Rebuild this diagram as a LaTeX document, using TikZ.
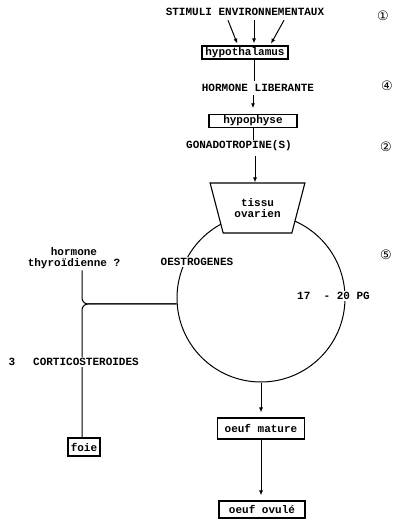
\documentclass[tikz,border=0pt]{standalone}
\usepackage{fontspec}
\setmonofont{Liberation Mono}
\newfontfamily\symfont{DejaVu Sans}
\usetikzlibrary{shapes.geometric,arrows.meta}
\tikzset{
  txt/.style={font=\fontsize{11}{11.5}\selectfont\ttfamily\bfseries, inner sep=1pt},
  boxed/.style={txt, draw, line width=1.1pt},
  arw/.style={-{Latex[length=5pt,width=4pt]}},
  num/.style={font=\symfont\fontsize{13}{13}\selectfont, inner sep=0pt},
}
\begin{document}
\begin{tikzpicture}[x=1pt,y=-1pt,line width=1pt]
        \useasboundingbox (0,0) rectangle (400,524);
        %% Cycle
        \node[circle,draw,minimum size=168pt,inner sep=0pt] (cyc) at (261,298) {};
        %% Blocks
        \node[txt] (stim) at (245,12) {STIMULI ENVIRONNEMENTAUX};
        \node[boxed,minimum width=86pt,minimum height=13pt] (hypo) at (245,52.5) {hypothalamus};
        \node[txt] (horm) at (258,88) {HORMONE LIBERANTE};
        \node[boxed,minimum width=88pt,minimum height=12pt] (hyph) at (253,121) {hypophyse};
        \node[txt] (gona) at (239,146) {GONADOTROPINE(S)};
        \node[txt,trapezium,draw,fill=white,align=center,line width=1.1pt,
              shape border rotate=180,trapezium angle=67,trapezium stretches=true,
              minimum width=95pt,minimum height=50pt] (ovar) at (257.5,208) {tissu\\ovarien};
        \node[boxed,minimum width=87pt,minimum height=21pt] (mat) at (261,428.5) {oeuf mature};
        \node[boxed,minimum width=86pt,minimum height=17pt] (ovu) at (262,509.5) {oeuf ovulé};
        \node[boxed,minimum width=32pt,minimum height=18pt] (foie) at (84,447) {foie};
        \node[txt,align=center] (thyr) at (74,258) {hormone\\thyroïdienne ?};
        %% Arrows
        \draw[arw,shorten >=2pt] ([xshift=-17pt,yshift=-3pt]stim.south) -- ([xshift=-7pt]hypo.north);
        \draw[arw,shorten >=2pt] ([xshift=9pt,yshift=-3pt]stim.south) -- ([xshift=9pt]hypo.north);
        \draw[arw,shorten >=2pt] ([xshift=39pt,yshift=-3pt]stim.south) -- ([xshift=25pt]hypo.north);
        \draw ([xshift=9pt]hypo.south) -- ++(0,21);
        \draw[arw,shorten >=6pt,shorten <=2pt] (horm.south -| hyph.north) -- (hyph.north);
        \draw (hyph.south) -- ++(0,12);
        \draw[arw,shorten <=3pt] (gona.south -| 255,0) -- (ovar.north -| 255,0);
        \draw[arw,shorten >=5pt] (cyc.south) -- (cyc.south |- mat.north);
        \draw[arw,shorten >=5pt] (mat.south) -- (mat.south |- ovu.north);
        %% junction on the left
        \coordinate (jn) at (82,304);
        \draw[rounded corners=6pt] (thyr.south -| jn) -- (jn) -- (cyc.184);
        \draw[rounded corners=6pt] (foie.north -| jn) -- (jn) -- (cyc.184);
        %% Labels over the lines
        \node[txt,fill=white] (oest) at (197,262) {OESTROGENES};
        \node[txt,fill=white] (pg) at (333.5,296) {17\ \ - 20 PG};
        \node[txt,fill=white] (cort) at (86,362) {CORTICOSTEROIDES};
        \node[txt] (n3) at (12,362) {3};
        %% numbers
        \node[num] (n1) at (383,16) {①};
        \node[num] (n4) at (387,86) {④};
        \node[num] (n2) at (386,147) {②};
        \node[num] (n5) at (386,255) {⑤};
    \end{tikzpicture}
\end{document}
